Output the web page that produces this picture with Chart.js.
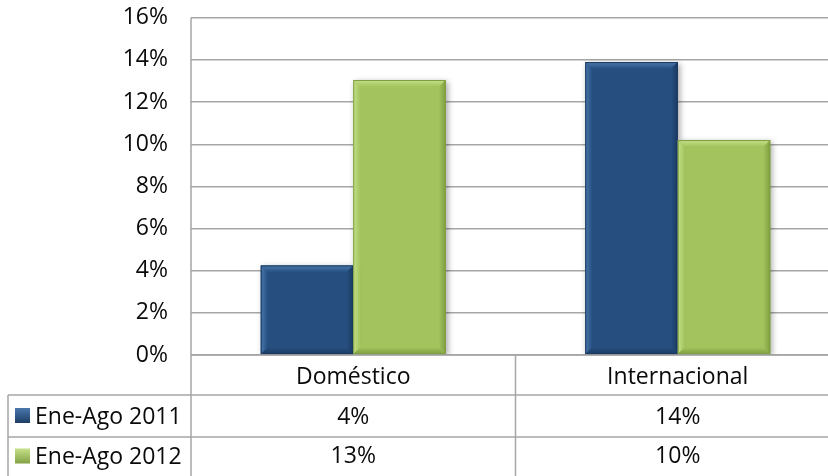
<!DOCTYPE html>
<html><head><meta charset="utf-8">
<script src="https://cdn.jsdelivr.net/npm/chart.js@4/dist/chart.umd.min.js"></script>
<style>html,body{margin:0;padding:0;background:#fff}#wrap{position:relative;width:828px;height:476px;overflow:hidden}#c{position:absolute;left:0;top:-19px}</style>
</head><body><div id="wrap"><canvas id="c" width="840" height="495"></canvas></div>
<script>
const categories = ["Doméstico", "Internacional"];
const seriesNames = ["Ene-Ago 2011", "Ene-Ago 2012"];
const values2011 = [4.25, 13.9];
const values2012 = [13.05, 10.2];
const tableRow2011 = ["4%", "14%"];
const tableRow2012 = ["13%", "10%"];
const yTicks = [0, 2, 4, 6, 8, 10, 12, 14, 16];

const FONT = "'Open Sans', sans-serif";
const FSIZE = 23;
const FWEIGHT = "500";
const TXT = "#0a0a0a";
const GRID = "#a6a6a6";
const colors = [
  {base:"#264f80", light:"#4a78ad", dark:"#1a3a60"},
  {base:"#a2c35d", light:"#c5e08a", dark:"#7f9e40"}
];

const shadow = {
  id:"shadow",
  beforeDatasetsDraw(chart){
    const ctx = chart.ctx; ctx.save();
    ctx.shadowColor = "rgba(0,0,0,0.35)"; ctx.shadowBlur = 6; ctx.shadowOffsetX = 2; ctx.shadowOffsetY = 2;
  },
  afterDatasetsDraw(chart){ chart.ctx.restore(); }
};

const bevel = {
  id:"bevel",
  afterDatasetsDraw(chart){
    const ctx = chart.ctx;
    chart.data.datasets.forEach((ds,di)=>{
      const meta = chart.getDatasetMeta(di);
      const c = colors[di];
      meta.data.forEach(bar=>{
        const p = bar.getProps(["x","y","base","width"],true);
        const l = p.x - p.width/2, r = p.x + p.width/2, t = p.y, b = p.base;
        const d = 7;
        ctx.save();
        let g = ctx.createLinearGradient(0,t,0,t+d); g.addColorStop(0,c.light); g.addColorStop(1,c.base);
        ctx.fillStyle = g;
        ctx.beginPath(); ctx.moveTo(l,t); ctx.lineTo(r,t); ctx.lineTo(r-d,t+d); ctx.lineTo(l+d,t+d); ctx.closePath(); ctx.fill();
        g = ctx.createLinearGradient(l,0,l+d,0); g.addColorStop(0,c.light); g.addColorStop(1,c.base);
        ctx.fillStyle = g;
        ctx.beginPath(); ctx.moveTo(l,t); ctx.lineTo(l+d,t+d); ctx.lineTo(l+d,b-d); ctx.lineTo(l,b); ctx.closePath(); ctx.fill();
        g = ctx.createLinearGradient(r-d,0,r,0); g.addColorStop(0,c.base); g.addColorStop(1,c.dark);
        ctx.fillStyle = g;
        ctx.beginPath(); ctx.moveTo(r,t); ctx.lineTo(r-d,t+d); ctx.lineTo(r-d,b-d); ctx.lineTo(r,b); ctx.closePath(); ctx.fill();
        g = ctx.createLinearGradient(0,b-d,0,b); g.addColorStop(0,c.base); g.addColorStop(1,c.dark);
        ctx.fillStyle = g;
        ctx.beginPath(); ctx.moveTo(l,b); ctx.lineTo(r,b); ctx.lineTo(r-d,b-d); ctx.lineTo(l+d,b-d); ctx.closePath(); ctx.fill();
        ctx.strokeStyle = c.dark; ctx.lineWidth = 1;
        ctx.strokeRect(l+0.5,t+0.5,r-l-1,b-t-1);
        ctx.restore();
      });
    });
  }
};

const table = {
  id:"table",
  afterDraw(chart){
    const ctx = chart.ctx;
    const xs = chart.scales.x;
    const area = chart.chartArea;
    const top = area.bottom, r1 = top + 40, r2 = r1 + 42, bot = chart.height + 2;
    const left = 8, axisX = area.left, right = chart.width;
    const divs = [];
    for (let i=0;i<categories.length-1;i++) divs.push((xs.getPixelForValue(i)+xs.getPixelForValue(i+1))/2);
    ctx.save();
    ctx.strokeStyle = GRID; ctx.lineWidth = 1.5;
    ctx.beginPath();
    ctx.moveTo(axisX, area.top); ctx.lineTo(axisX, bot);
    ctx.moveTo(axisX, top); ctx.lineTo(right, top);
    ctx.moveTo(left, r1); ctx.lineTo(right, r1);
    ctx.moveTo(left, r2); ctx.lineTo(right, r2);
    ctx.moveTo(left, r1); ctx.lineTo(left, bot);
    divs.forEach(d=>{ctx.moveTo(d, top); ctx.lineTo(d, bot);});
    ctx.stroke();
    ctx.fillStyle = TXT; ctx.font = FWEIGHT + " " + FSIZE + "px " + FONT; ctx.textBaseline = "middle"; ctx.textAlign = "center";
    categories.forEach((c,i)=>ctx.fillText(c, xs.getPixelForValue(i), (top+r1)/2+2));
    tableRow2011.forEach((c,i)=>ctx.fillText(c, xs.getPixelForValue(i), (r1+r2)/2+1));
    tableRow2012.forEach((c,i)=>ctx.fillText(c, xs.getPixelForValue(i), (r2+chart.height)/2));
    ctx.textAlign = "left";
    [[seriesNames[0],(r1+r2)/2],[seriesNames[1],(r2+chart.height)/2]].forEach((s,i)=>{
      const c = colors[i];
      const g = ctx.createLinearGradient(0,s[1]-8,0,s[1]+8); g.addColorStop(0,c.light); g.addColorStop(1,c.dark);
      ctx.fillStyle = g; ctx.fillRect(15, s[1]-8, 15, 15);
      ctx.fillStyle = TXT; ctx.fillText(s[0], 35, s[1]+1);
    });
    ctx.restore();
  }
};

new Chart(document.getElementById("c"), {
  type:"bar",
  data:{labels:categories, datasets:[
    {label:seriesNames[0], data:values2011, backgroundColor:colors[0].base, borderWidth:0},
    {label:seriesNames[1], data:values2012, backgroundColor:colors[1].base, borderWidth:0}
  ]},
  options:{
    responsive:false, animation:false,
    layout:{padding:{top:0, bottom:121, left:0, right:0}},
    datasets:{bar:{categoryPercentage:0.57, barPercentage:1}},
    plugins:{legend:{display:false}, tooltip:{enabled:false}},
    scales:{
      x:{display:true, grid:{display:false, drawTicks:false}, border:{display:false}, ticks:{display:false}},
      y:{min:0, max:16, afterFit(s){s.width=191;},
         afterBuildTicks(s){s.ticks = yTicks.map(v=>({value:v}));},
         grid:{color:GRID, lineWidth:1.5, drawTicks:false},
         border:{display:false},
         ticks:{padding:23, color:TXT, font:{family:FONT, size:FSIZE, weight:FWEIGHT}, callback:v=>v+"%"}}
    }
  },
  plugins:[shadow, bevel, table]
});
</script></body></html>
